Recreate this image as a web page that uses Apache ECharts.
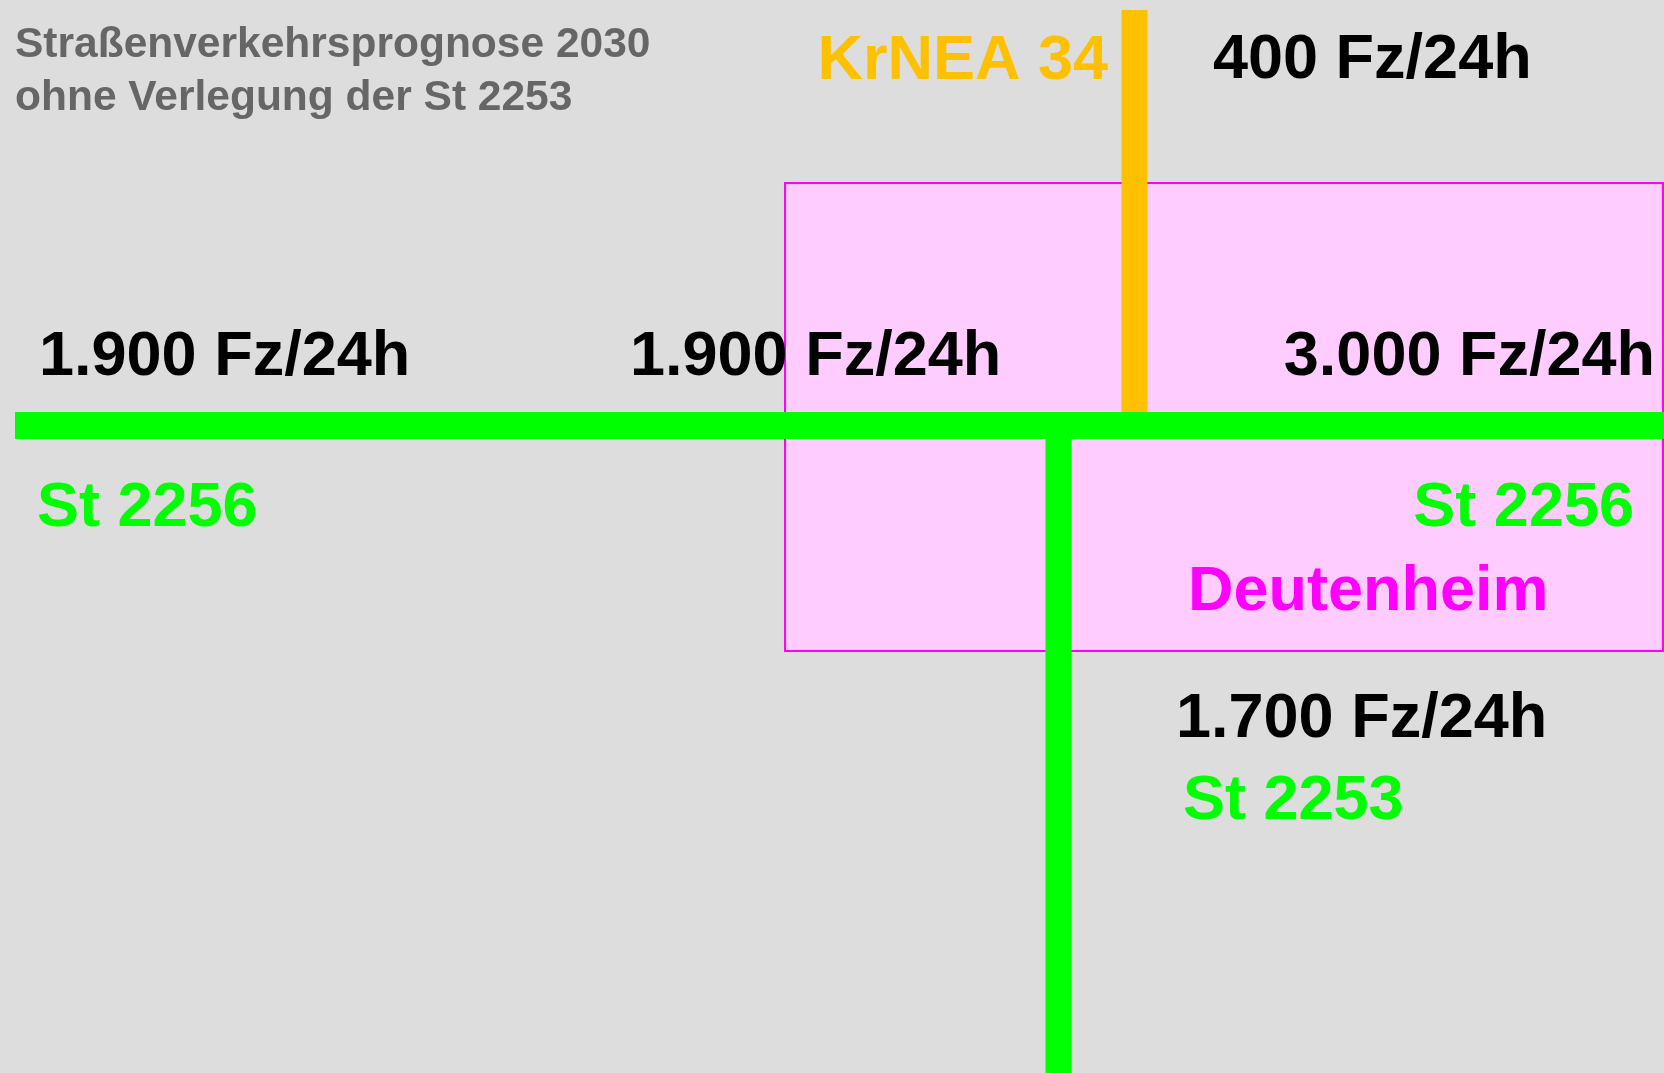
<!DOCTYPE html>
<html>
<head>
<meta charset="utf-8">
<script src="https://cdn.jsdelivr.net/npm/echarts@6/dist/echarts.min.js"></script>
<style>
  html, body { margin: 0; padding: 0; background: #dddddd; }
  #chart { width: 1664px; height: 1073px; }
</style>
</head>
<body>
<div id="chart"></div>
<script>
// Verkehrsmengen (Fz/24h)
const counts = [1900, 1900, 3000, 400, 1700];
const unit = "Fz/24h";
// Straßen / Orte
const roadNames = ["St 2256", "St 2256", "St 2253", "KrNEA 34"];
const placeNames = ["Deutenheim"];
const titleLines = ["Straßenverkehrsprognose 2030", "ohne Verlegung der St 2253"];

const W = 1664, H = 1073;
const FONT = 63;
const fmt = v => String(v).replace(/\B(?=(\d{3})+(?!\d))/g, ".") + " " + unit;

// Lageplan (Schema-Koordinaten)
const roads = [
  { color: "#ffc000", width: 26, path: [[1134.5, 10], [1134.5, 412]] },
  { color: "#00ff00", width: 27, path: [[15, 425.5], [W, 425.5]] },
  { color: "#00ff00", width: 26, path: [[1058.5, 439], [1058.5, H]] }
];
const ortsBox = [[785, 183], [1663, 651]];

const labels = [
  { text: fmt(counts[0]), pos: [39, 377], align: "left", color: "#000" },
  { text: fmt(counts[1]), pos: [630, 377], align: "left", color: "#000" },
  { text: fmt(counts[2]), pos: [1655, 377], align: "right", color: "#000" },
  { text: fmt(counts[3]), pos: [1213, 80], align: "left", color: "#000" },
  { text: fmt(counts[4]), pos: [1176, 739], align: "left", color: "#000" },
  { text: roadNames[0], pos: [37, 528], align: "left", color: "#00ff00" },
  { text: roadNames[1], pos: [1634, 528], align: "right", color: "#00ff00" },
  { text: roadNames[2], pos: [1183, 821], align: "left", color: "#00ff00" },
  { text: roadNames[3], pos: [1108, 81], align: "right", color: "#ffc000" },
  { text: placeNames[0], pos: [1188, 612], align: "left", color: "#ff00ff" }
];

const chart = echarts.init(document.getElementById("chart"));

const option = {
  backgroundColor: "#dddddd",
  animation: false,
  title: {
    text: titleLines.join("\n"),
    left: 15,
    top: 19,
    padding: 0,
    textStyle: {
      fontFamily: "Liberation Sans",
      fontSize: 42.5,
      lineHeight: 53,
      fontWeight: "bold",
      color: "#666666"
    }
  },
  grid: { left: 0, right: 0, top: 0, bottom: 0 },
  xAxis: { type: "value", min: 0, max: W, show: false },
  yAxis: { type: "value", min: 0, max: H, inverse: true, show: false },
  series: [
    {
      type: "custom",
      z: 1,
      data: [ortsBox[0].concat(ortsBox[1])],
      renderItem: (params, api) => {
        const a = api.coord([api.value(0), api.value(1)]);
        const b = api.coord([api.value(2), api.value(3)]);
        return {
          type: "rect",
          shape: { x: a[0], y: a[1], width: b[0] - a[0], height: b[1] - a[1] },
          style: { fill: "#ffccff", stroke: "#ff00ff", lineWidth: 2 }
        };
      }
    },
    ...roads.map((r, i) => ({
      type: "line",
      z: 2 + i,
      data: r.path,
      showSymbol: false,
      symbol: "none",
      lineStyle: { color: r.color, width: r.width, cap: "butt" }
    })),
    {
      type: "custom",
      z: 10,
      data: labels.map(l => l.pos),
      renderItem: (params, api) => {
        const p = api.coord([api.value(0), api.value(1)]);
        const l = labels[params.dataIndex];
        return {
          type: "text",
          x: p[0],
          y: p[1] - FONT * 0.30,
          style: {
            text: l.text,
            fill: l.color,
            font: "bold " + FONT + "px 'Liberation Sans'",
            align: l.align,
            verticalAlign: "middle"
          }
        };
      }
    }
  ]
};

chart.setOption(option);
</script>
</body>
</html>
